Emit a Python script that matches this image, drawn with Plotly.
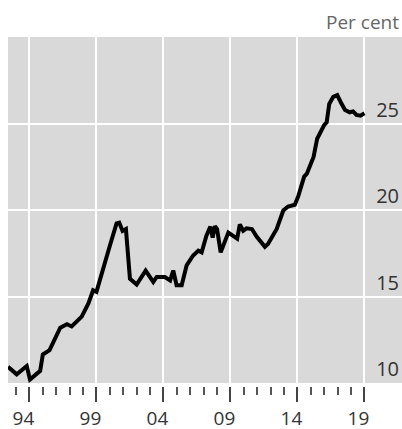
import plotly.graph_objects as go

# share, per cent
years = [1992.4, 1993.05, 1993.8, 1994.04, 1994.8, 1995.0, 1995.5, 1996.3, 1996.8, 1997.15,
         1997.9, 1998.4, 1998.75, 1999.0, 2000.0, 2000.5, 2000.7, 2000.95, 2001.2, 2001.5,
         2002.0, 2002.67, 2003.24, 2003.5, 2004.1, 2004.5, 2004.73, 2004.98, 2005.36, 2005.73,
         2006.2, 2006.6, 2006.85, 2007.2, 2007.5, 2007.67, 2007.84, 2008.0, 2008.27, 2008.6,
         2008.84, 2009.5, 2009.7, 2009.95, 2010.2, 2010.6, 2010.95, 2011.57, 2011.8, 2012.45,
         2012.94, 2013.3, 2013.8, 2014.06, 2014.5, 2014.7, 2015.2, 2015.47, 2015.8, 2016.0,
         2016.18, 2016.37, 2016.67, 2016.97, 2017.25, 2017.55, 2017.9, 2018.15, 2018.4, 2018.7,
         2019.0]
values = [10.94, 10.5, 10.98, 10.2, 10.7, 11.65, 11.9, 13.2, 13.4, 13.27,
          13.84, 14.6, 15.36, 15.27, 17.93, 19.23, 19.27, 18.79, 18.9, 16.03,
          15.69, 16.5, 15.84, 16.13, 16.13, 15.93, 16.5, 15.65, 15.65, 16.8,
          17.36, 17.65, 17.55, 18.5, 19.04, 18.4, 19.07, 18.9, 17.55, 18.3,
          18.7, 18.35, 19.17, 18.8, 18.94, 18.9, 18.47, 17.87, 18.03, 18.9,
          19.97, 20.2, 20.3, 20.8, 21.93, 22.1, 23.07, 24.12, 24.7, 24.92,
          25.07, 26.13, 26.54, 26.64, 26.2, 25.78, 25.65, 25.7, 25.5, 25.45,
          25.59]

x_tickvals = [1994, 1999, 2004, 2009, 2014, 2019]
x_ticktext = ["94", "99", "04", "09", "14", "19"]
y_tickvals = [10, 15, 20, 25]

fig = go.Figure()
fig.add_trace(go.Scatter(x=years, y=values, mode="lines",
                         line=dict(color="black", width=4), hoverinfo="skip"))

fig.update_layout(
    width=402, height=429,
    margin=dict(l=8, r=0, t=37, b=46),
    paper_bgcolor="white", plot_bgcolor="#d9d9d9",
    showlegend=False,
    font=dict(family="Open Sans, sans-serif", color="#333333"),
    annotations=[dict(text="Per cent", xref="paper", yref="paper", x=1.0, y=1.0,
                      xanchor="right", yanchor="bottom", yshift=0, xshift=-1,
                      showarrow=False, font=dict(size=19, color="#666666"))],
)
fig.update_xaxes(
    range=[1992.4, 2021.8], tickvals=x_tickvals, ticktext=x_ticktext,
    showgrid=True, gridcolor="white", gridwidth=2, zeroline=False, automargin=False,
    ticks="outside", ticklen=15, tickwidth=2, tickcolor="#444444",
    showline=True, linecolor="white", linewidth=4,
    tickfont=dict(size=19, color="#333333"), ticklabelshift=-6,
    minor=dict(dtick=1, tick0=1994, ticks="outside", ticklen=8, tickwidth=1.5,
               tickcolor="#555555", showgrid=False),
)
fig.update_yaxes(
    range=[10.0, 30], tickvals=y_tickvals, side="right", automargin=False,
    ticklabelposition="inside top", showgrid=True, gridcolor="white", gridwidth=2,
    zeroline=False, ticks="", tickfont=dict(size=20, color="#333333"),
)

fig.write_html("out.html", config={"displayModeBar": False},
               post_script="document.body.style.margin='0';")
